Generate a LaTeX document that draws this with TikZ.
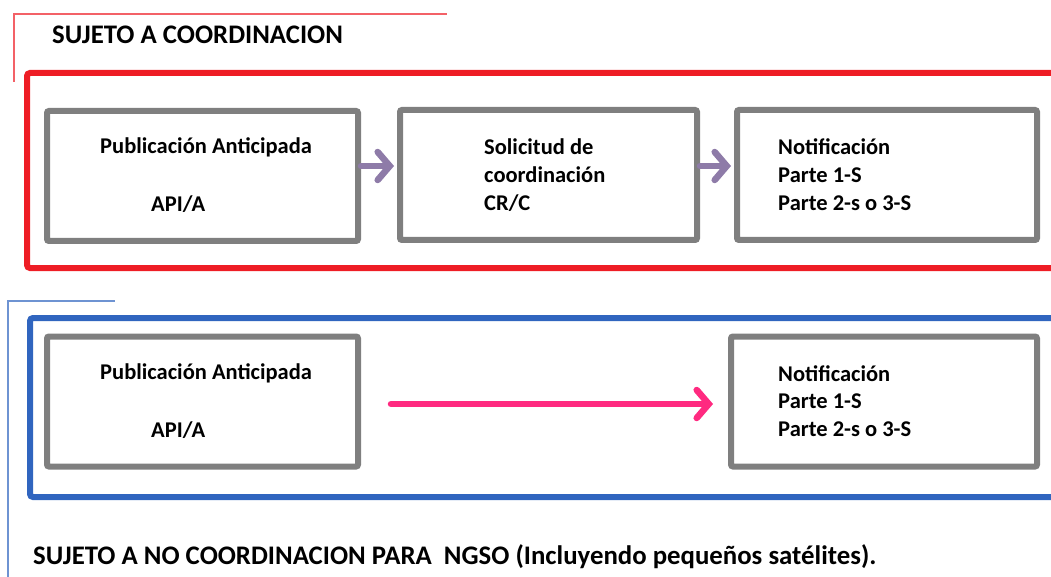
\documentclass[tikz,border=0pt]{standalone}
\usepackage{fontspec}
\setmainfont{Carlito}
\usetikzlibrary{positioning,arrows.meta}

\definecolor{frred}{HTML}{EE1D25}
\definecolor{frblue}{HTML}{3065BF}
\definecolor{boxgray}{HTML}{7F7F7F}
\definecolor{arrpurple}{HTML}{8E7BA8}
\definecolor{arrpink}{HTML}{FF2A80}

\begin{document}
\begin{tikzpicture}[
  x=1pt,y=-1pt,
  stage/.style={draw=boxgray,line width=6pt,rounded corners=2pt,
    minimum width=#1,minimum height=130pt,inner sep=0pt},
  txt/.style={anchor=west,font=\bfseries\fontsize{22.5}{26}\selectfont,inner sep=0pt},
  head/.style={anchor=west,font=\bfseries\fontsize{26.8}{30}\selectfont,inner sep=0pt},
  frame/.style={line width=6pt,rounded corners=3pt},
  flow/.style={line width=6.5pt,line cap=round,
    -{Straight Barb[length=12pt,width=28pt,line cap=round]}}
  ]
  \useasboundingbox (0,0) rectangle (1051,577);
  \clip (0,0) rectangle (1051,577);

  % upper part
  \draw[frred!70,line width=1.5pt] (14,82) |- (447,14);
  \node[head] (t1) at (52,35) {SUJETO A COORDINACION};
  \draw[frame,draw=frred] (27,73) rectangle (1080,268);

  \node[stage=311pt] (a1) at (202.5,176) {};
  \node[stage=297pt] (c1) at (548.5,175) {};
  \node[stage=300pt] (n1) at (887,175) {};

  \node[txt] (a1t) at (100,147) {Publicación Anticipada};
  \node[txt] (a1c) at (151,204) {API/A};
  \node[txt] (c1t) at (484,147) {Solicitud de};
  \node[txt] (c1m) at (484,175) {coordinación};
  \node[txt] (c1c) at (484,203) {CR/C};
  \node[txt] (n1t) at (778,147) {Notificación};
  \node[txt] (n1p) at (778,175) {Parte 1-S};
  \node[txt] (n1q) at (778,203) {Parte 2-s o 3-S};

  \draw[flow,arrpurple,shorten >=3pt] ([yshift=10pt]a1.east) -- ([yshift=9pt]c1.west);
  \draw[flow,arrpurple,shorten >=3pt] ([yshift=9pt]c1.east) -- ([yshift=9pt]n1.west);

  % lower part
  \draw[frblue!70,line width=1.5pt] (8,577) |- (115,301);
  \draw[frame,draw=frblue] (30,318) rectangle (1080,497);

  \node[stage=311pt] (a2) at (202.5,401.5) {};
  \node[stage=306pt] (n2) at (884,401.5) {};

  \node[txt] (a2t) at (100,373) {Publicación Anticipada};
  \node[txt] (a2c) at (151,430) {API/A};
  \node[txt] (n2t) at (778,374) {Notificación};
  \node[txt] (n2p) at (778,401) {Parte 1-S};
  \node[txt] (n2q) at (778,429) {Parte 2-s o 3-S};

  \draw[flow,arrpink,shorten <=30pt,shorten >=15pt]
    ([yshift=-2.5pt]a2.east) -- ([yshift=-2.5pt]n2.west);

  \node[head] (t2) at (33,557) {SUJETO A NO COORDINACION PARA \ NGSO (Incluyendo pequeños satélites).};
\end{tikzpicture}
\end{document}
